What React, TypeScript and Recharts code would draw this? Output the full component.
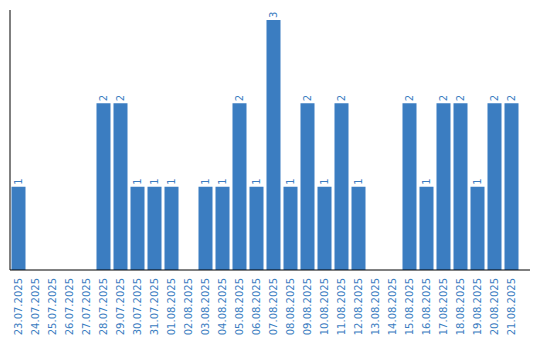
import React from "react";
import { BarChart, Bar, XAxis, YAxis, LabelList } from "recharts";

const dates = [
  "23.07.2025", "24.07.2025", "25.07.2025", "26.07.2025", "27.07.2025",
  "28.07.2025", "29.07.2025", "30.07.2025", "31.07.2025", "01.08.2025",
  "02.08.2025", "03.08.2025", "04.08.2025", "05.08.2025", "06.08.2025",
  "07.08.2025", "08.08.2025", "09.08.2025", "10.08.2025", "11.08.2025",
  "12.08.2025", "13.08.2025", "14.08.2025", "15.08.2025", "16.08.2025",
  "17.08.2025", "18.08.2025", "19.08.2025", "20.08.2025", "21.08.2025",
];
const counts = [
  1, 0, 0, 0, 0,
  2, 2, 1, 1, 1,
  0, 1, 1, 2, 1,
  3, 1, 2, 1, 2,
  1, 0, 0, 2, 1,
  2, 2, 1, 2, 2,
];

const data = dates.map((d, i) => ({ date: d, count: counts[i] }));

const BLUE = "#3b7dc1";
const FONT = "'DejaVu Sans', Verdana, sans-serif";

const DateTick = (props: any) => {
  const { x, y, payload } = props;
  return (
    <text
      x={x}
      y={y}
      transform={`rotate(-90, ${x}, ${y})`}
      textAnchor="end"
      dy="0.35em"
      fill={BLUE}
      fontSize={10}
      fontFamily={FONT}
    >
      {payload.value}
    </text>
  );
};

const ValueLabel = (props: any) => {
  const { x, y, width, value } = props;
  if (!value) return null;
  const cx = x + width / 2;
  const ty = y - 2;
  return (
    <text
      x={cx}
      y={ty}
      transform={`rotate(-90, ${cx}, ${ty})`}
      textAnchor="start"
      dy="0.35em"
      fill={BLUE}
      fontSize={10}
      fontFamily={FONT}
    >
      {value}
    </text>
  );
};

export default function App() {
  return (
    <div style={{ position: "absolute", left: 0, top: 0, width: 540, height: 340, background: "#fff" }}>
      <BarChart
        width={540}
        height={340}
        data={data}
        margin={{ top: 10, right: 10, bottom: 0, left: 9 }}
        barCategoryGap={1.5}
      >
        <XAxis
          dataKey="date"
          interval={0}
          height={70}
          tickLine={false}
          axisLine={{ stroke: "#000", strokeWidth: 1 }}
          tick={<DateTick />}
          padding={{ left: 0, right: 10 }}
        />
        <YAxis
          width={1}
          domain={[0, 3.12]}
          tick={false}
          tickLine={false}
          axisLine={{ stroke: "#000", strokeWidth: 1 }}
        />
        <Bar dataKey="count" fill={BLUE} isAnimationActive={false}>
          <LabelList dataKey="count" content={<ValueLabel />} />
        </Bar>
      </BarChart>
    </div>
  );
}
